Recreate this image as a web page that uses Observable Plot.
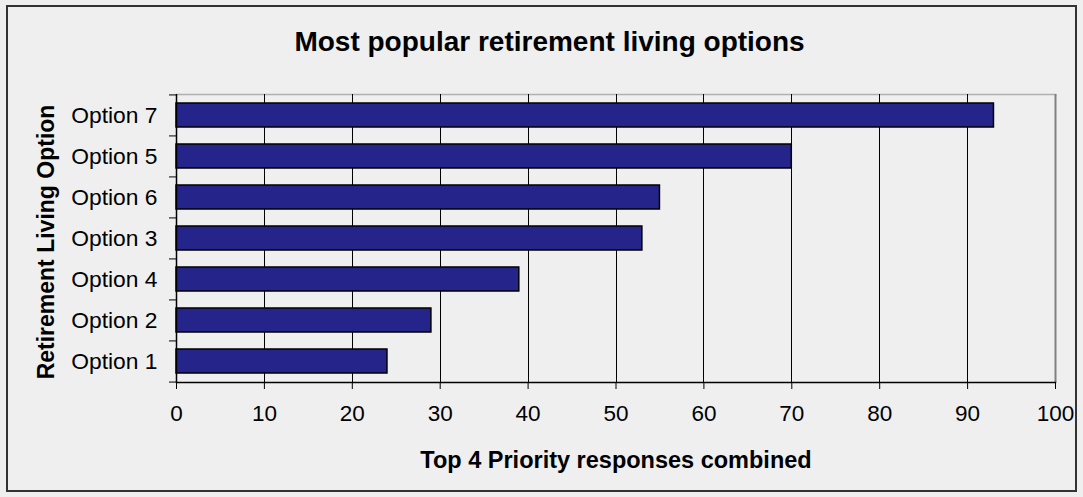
<!DOCTYPE html>
<html>
<head>
<meta charset="utf-8">
<script src="https://cdn.jsdelivr.net/npm/d3@7"></script>
<script src="https://cdn.jsdelivr.net/npm/@observablehq/plot@0.6"></script>
<style>
  html, body { margin: 0; padding: 0; background: #efefef; }
  #wrap { position: relative; width: 1083px; height: 497px; background: #efefef; font-family: "Liberation Sans", Arial, sans-serif; }
  #border { position: absolute; left: 6px; top: 5px; width: 1071px; height: 487px; box-sizing: border-box; border: 2px solid #333; }
  #title { position: absolute; left: 0; width: 1099px; top: 28px; text-align: center; font-size: 28px; line-height: 28px; font-weight: bold; color: #000; }
  #chart { position: absolute; left: 0; top: 0; }
</style>
</head>
<body>
<div id="wrap">
  <div id="border"></div>
  <div id="chart"></div>
  <div id="title">Most popular retirement living options</div>
</div>
<script>
const categories = ["Option 7", "Option 5", "Option 6", "Option 3", "Option 4", "Option 2", "Option 1"];
const values = [93, 70, 55, 53, 39, 29, 24];
const xTicks = [0, 10, 20, 30, 40, 50, 60, 70, 80, 90, 100];
const gridTicks = [10, 20, 30, 40, 50, 60, 70, 80, 90];
const xLabel = "Top 4 Priority responses combined";
const yLabel = "Retirement Living Option";

const data = categories.map((c, i) => ({option: c, value: values[i]}));

const W = 1083, H = 497;
const mL = 176, mR = 28, mT = 94, mB = 115;
const step = (H - mT - mB) / categories.length;

const plot = Plot.plot({
  width: W,
  height: H,
  marginLeft: mL,
  marginRight: mR,
  marginTop: mT,
  marginBottom: mB,
  style: {background: "transparent", fontFamily: "'Liberation Sans', Arial, sans-serif", color: "#000", overflow: "visible"},
  x: {domain: [0, 100]},
  y: {domain: categories, paddingInner: 0.42, paddingOuter: 0.21, align: 0.5},
  marks: [
    Plot.frame({anchor: "top", stroke: "#b0b0b0", strokeWidth: 1.5}),
    Plot.ruleX(gridTicks, {stroke: "#000", strokeWidth: 1, shapeRendering: "crispEdges"}),
    Plot.ruleX([100], {stroke: "#808080", strokeWidth: 2}),
    Plot.barX(data, {x: "value", y: "option", fill: "#24248a", stroke: "#000", strokeWidth: 1.5}),
    Plot.ruleX([0], {stroke: "#000", strokeWidth: 1.5}),
    Plot.frame({anchor: "bottom", stroke: "#000", strokeWidth: 1.5}),
    Plot.axisX({ticks: xTicks, tickSize: 7, tickPadding: 16, fontSize: 22.5, label: null, stroke: "#000"}),
    Plot.axisY({tickSize: 0, tickPadding: 19, fontSize: 22.8, label: null}),
    Plot.axisY({tickSize: 7, tickFormat: () => "", dy: -step / 2, label: null, stroke: "#000"}),
    Plot.axisY({ticks: [categories[categories.length - 1]], tickSize: 7, tickFormat: () => "", dy: step / 2, label: null, stroke: "#000"}),
    Plot.text([xLabel], {frameAnchor: "bottom", lineAnchor: "bottom", dy: 85, fontSize: 23.5, fontWeight: "bold", fill: "#000"}),
    Plot.text([yLabel], {frameAnchor: "left", textAnchor: "middle", rotate: -90, lineAnchor: "bottom", dx: -123, dy: 3.5, fontSize: 23, fontWeight: "bold", fill: "#000"})
  ]
});
document.getElementById("chart").appendChild(plot);
</script>
</body>
</html>
